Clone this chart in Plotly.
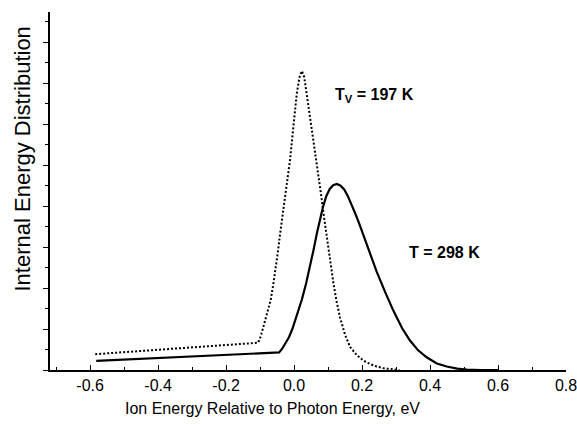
import plotly.graph_objects as go

# Data
dotted_x = [-0.585, -0.106, -0.098, -0.090, -0.080, -0.069, -0.061, -0.053, -0.047, -0.041,
            -0.033, -0.028, -0.021, -0.012, -0.002, 0.008, 0.016, 0.023, 0.030, 0.037,
            0.045, 0.052, 0.067, 0.079, 0.088, 0.101, 0.116, 0.125, 0.135, 0.150,
            0.165, 0.185, 0.204, 0.225, 0.243, 0.265, 0.290, 0.310]
dotted_y = [0.386, 0.665, 0.82, 1.05, 1.35, 1.70, 2.10, 2.51, 2.92, 3.33,
            3.82, 4.10, 4.45, 5.12, 5.94, 6.75, 7.15, 7.30, 7.15, 6.75,
            6.35, 5.94, 5.12, 4.31, 3.74, 2.92, 2.11, 1.68, 1.29, 0.86,
            0.56, 0.36, 0.23, 0.14, 0.085, 0.04, 0.01, 0.0]

solid_x = [-0.582, -0.044, -0.035, -0.025, -0.015, -0.005, 0.005, 0.015, 0.023, 0.035,
           0.047, 0.057, 0.067, 0.076, 0.085, 0.095, 0.105, 0.115, 0.126, 0.137,
           0.148, 0.158, 0.168, 0.180, 0.192, 0.204, 0.220, 0.243, 0.268, 0.292,
           0.318, 0.341, 0.365, 0.390, 0.420, 0.449, 0.480, 0.508, 0.550, 0.600]
solid_y = [0.225, 0.428, 0.52, 0.65, 0.80, 1.00, 1.25, 1.50, 1.72, 2.10,
           2.51, 2.92, 3.33, 3.68, 3.98, 4.25, 4.42, 4.51, 4.54, 4.50,
           4.40, 4.25, 4.07, 3.82, 3.57, 3.30, 2.92, 2.40, 1.90, 1.45,
           1.02, 0.72, 0.48, 0.31, 0.16, 0.085, 0.035, 0.01, 0.0, 0.0]

x_tickvals = [-0.6, -0.4, -0.2, 0.0, 0.2, 0.4, 0.6, 0.8]
x_ticktext = ["-0.6", "-0.4", "-0.2", "0.0", "0.2", "0.4", "0.6", "0.8"]

label_tv = "T<sub>V</sub> = 197 K"
label_t = "T = 298 K"
x_title = "Ion Energy Relative to Photon Energy, eV"
y_title = "Internal Energy Distribution"

FONT = "Liberation Sans, Arial, sans-serif"

fig = go.Figure()
fig.add_trace(go.Scatter(x=dotted_x, y=dotted_y, mode="lines",
                         line=dict(color="black", width=2, dash="2px,2px"),
                         hoverinfo="skip", cliponaxis=False))
fig.add_trace(go.Scatter(x=solid_x, y=solid_y, mode="lines",
                         line=dict(color="black", width=2.2),
                         hoverinfo="skip", cliponaxis=False))

fig.update_layout(
    template="none",
    width=577, height=424,
    margin=dict(l=50, r=11, t=12, b=54, autoexpand=False),
    paper_bgcolor="white", plot_bgcolor="white",
    showlegend=False,
    font=dict(family=FONT, color="black"),
    xaxis=dict(
        range=[-0.718, 0.8], automargin=False,
        showgrid=False, zeroline=False,
        showline=True, linecolor="black", linewidth=2,
        tickmode="array", tickvals=x_tickvals, ticktext=x_ticktext,
        ticks="inside", ticklen=5, tickwidth=1, tickcolor="black",
        tickfont=dict(size=16, family=FONT, color="black"),
        ticklabeloverflow="allow",
        minor=dict(tickmode="linear", tick0=0, dtick=0.1, ticks="inside",
                   ticklen=3, tickwidth=1, tickcolor="black", showgrid=False),
        ticklabelstandoff=0,
    ),
    yaxis=dict(
        range=[0, 8.74], automargin=False,
        showgrid=False, zeroline=False,
        showline=True, linecolor="black", linewidth=2,
        tickmode="linear", tick0=0, dtick=1,
        ticks="outside", ticklen=5, tickwidth=1, tickcolor="black",
        showticklabels=False,
        minor=dict(tickmode="linear", tick0=0, dtick=0.5, ticks="outside",
                   ticklen=3, tickwidth=1, tickcolor="black", showgrid=False),
    ),
    annotations=[
        dict(text=x_title, xref="paper", yref="paper", x=(272 - 50) / 516, y=-38 / 358,
             xanchor="center", yanchor="middle", showarrow=False,
             font=dict(size=16, family=FONT, color="black")),
        dict(text=y_title, xref="paper", yref="paper", x=-28.5 / 516, y=(370 - 159) / 358,
             xanchor="center", yanchor="middle", textangle=-90, showarrow=False,
             font=dict(size=22, family=FONT, color="black")),
        dict(text="<b>" + label_tv + "</b>", xref="x", yref="y", x=0.115, y=6.71,
             xanchor="left", yanchor="middle", showarrow=False,
             font=dict(size=16, family=FONT, color="black")),
        dict(text="<b>" + label_t + "</b>", xref="x", yref="y", x=0.332, y=2.87,
             xanchor="left", yanchor="middle", showarrow=False,
             font=dict(size=16, family=FONT, color="black")),
    ],
)

fig.write_html("out.html",
               config={"displayModeBar": False},
               post_script="document.body.style.margin='0px';document.body.style.padding='0px';")
